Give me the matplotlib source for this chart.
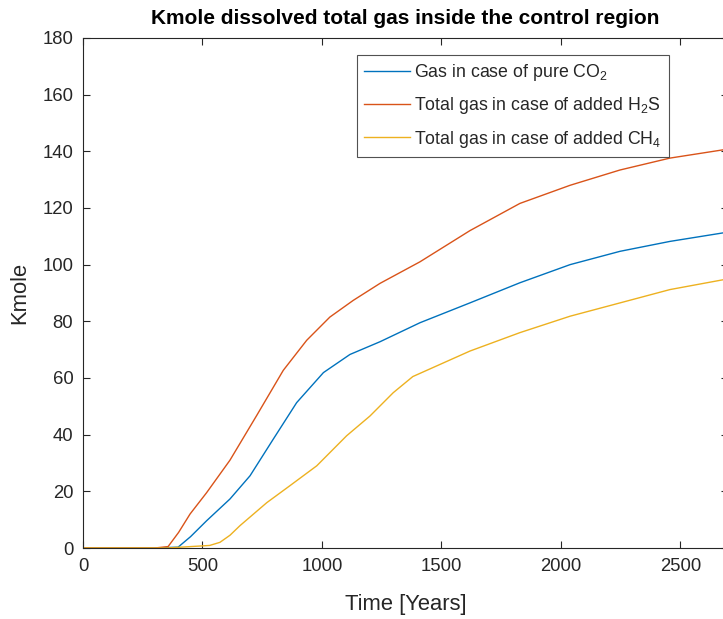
import matplotlib

matplotlib.use("Agg")
import matplotlib.pyplot as plt

plt.rcParams["font.family"] = ["Liberation Sans", "DejaVu Sans"]
plt.rcParams["mathtext.fontset"] = "custom"
plt.rcParams["mathtext.rm"] = "Liberation Sans"

# Pure CO2 case (blue)
co2_years = [0, 300, 398, 450, 517, 615, 699, 796, 894, 1006, 1117, 1243, 1410,
             1619, 1828, 2038, 2247, 2456, 2700]
co2_kmole = [0.0, 0.0, 0.3, 4.0, 9.6, 17.3, 25.5, 38.4, 51.3, 61.9, 68.3, 72.8, 79.5,
             86.5, 93.6, 100.0, 104.7, 108.2, 111.5]

# Added H2S case (red)
h2s_years = [0, 300, 356, 400, 448, 517, 615, 727, 838, 936, 1033, 1131, 1243,
             1410, 1619, 1828, 2038, 2247, 2456, 2700]
h2s_kmole = [0.0, 0.0, 0.5, 5.5, 12.0, 19.5, 31.0, 46.8, 62.7, 73.3, 81.5, 87.4, 93.4,
             101.0, 112.0, 121.6, 128.0, 133.4, 137.6, 140.8]

# Added CH4 case (yellow)
ch4_years = [0, 350, 450, 530, 573, 615, 657, 769, 866, 978, 1103, 1201, 1298,
             1380, 1619, 1828, 2038, 2247, 2456, 2700]
ch4_kmole = [0.0, 0.0, 0.5, 0.9, 2.0, 4.5, 7.9, 16.0, 22.0, 29.0, 39.6, 46.6, 54.8,
             60.5, 69.5, 76.0, 81.8, 86.5, 91.2, 95.0]

series_labels = [
    r"Gas in case of pure CO$_2$",
    r"Total gas in case of added H$_2$S",
    r"Total gas in case of added CH$_4$",
]
colors = ["#0072BD", "#D95319", "#EDB120"]
axis_color = "#262626"

fig = plt.figure(figsize=(7.23, 6.19), dpi=100)
ax = fig.add_axes([0.1148, 0.1147, 0.8925, 0.824])

ax.plot(co2_years, co2_kmole, color=colors[0], lw=1.0, label=series_labels[0])
ax.plot(h2s_years, h2s_kmole, color=colors[1], lw=1.0, label=series_labels[1])
ax.plot(ch4_years, ch4_kmole, color=colors[2], lw=1.0, label=series_labels[2])

ax.set_xlim(0, 2700)
ax.set_ylim(0, 180)
ax.set_xticks([0, 500, 1000, 1500, 2000, 2500])
ax.set_yticks(range(0, 181, 20))

for side in ["left", "right", "top", "bottom"]:
    ax.spines[side].set_color(axis_color)
    ax.spines[side].set_linewidth(0.8)
ax.tick_params(direction="in", length=5, width=0.8, top=True, right=True,
               labelsize=13.3, colors=axis_color, pad=7)

ax.set_xlabel("Time [Years]", fontsize=15.8, color=axis_color, labelpad=14)
ax.set_ylabel("Kmole", fontsize=15.8, color=axis_color, labelpad=9)
ax.set_title("Kmole dissolved total gas inside the control region",
             fontsize=15, fontweight="bold", color="black", pad=10)

leg = ax.legend(loc="upper left", bbox_to_anchor=(0.4246, 0.9667), borderaxespad=0,
                fontsize=12.8, frameon=True, fancybox=False, edgecolor=axis_color,
                handlelength=2.55, handletextpad=0.25, labelspacing=0.68,
                borderpad=0.42)
leg.get_frame().set_linewidth(0.8)
for t in leg.get_texts():
    t.set_color(axis_color)

fig.savefig("out.png", dpi=100)
plt.close(fig)
